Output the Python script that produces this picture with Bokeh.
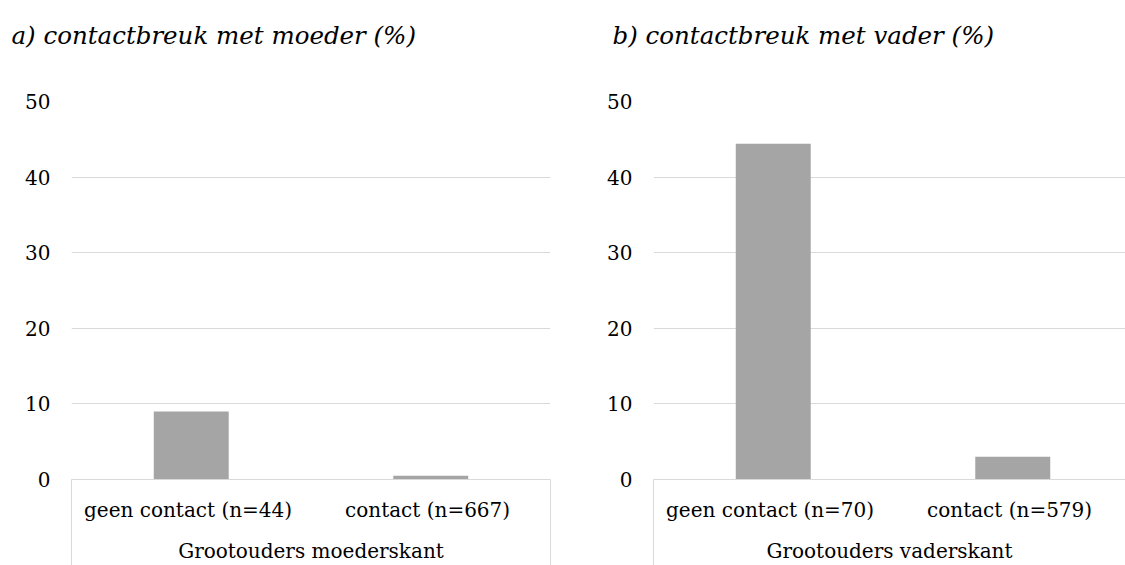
from bokeh.plotting import figure
from bokeh.models import Range1d, FixedTicker, LinearAxis, Title
from bokeh.layouts import row
from bokeh.embed import file_html
from bokeh.resources import INLINE

# ---- data ----
title_moeder = "a) contactbreuk met moeder (%)"
title_vader = "b) contactbreuk met vader (%)"
categories_moeder = ["geen contact  (n=44)", "contact  (n=667)"]
values_moeder = [9.0, 0.5]
group_moeder = "Grootouders moederskant"
categories_vader = ["geen contact  (n=70)", "contact  (n=579)"]
values_vader = [44.4, 3.0]
group_vader = "Grootouders vaderskant"
y_ticks = [0, 10, 20, 30, 40, 50]

FONT = "DejaVu Serif"
GRID = "#d9d9d9"
BAR = "#a5a5a5"
CAT_PX = 239.5      # pixels per category
TOP = 101           # space above plot area
BOTTOM = 86         # space below plot area (category box)
HEIGHT = 565


def make_panel(title, cats, vals, group, min_left, frame_w, min_right, title_offset):
    n = len(cats)
    xs = list(range(n))
    x_end = -0.5 + frame_w / CAT_PX
    p = figure(width=min_left + frame_w + min_right, height=HEIGHT,
               x_range=Range1d(-0.5, x_end), y_range=Range1d(0, 50),
               output_backend="svg", toolbar_location=None, title_location=None,
               min_border_left=min_left, min_border_right=min_right,
               min_border_top=TOP, min_border_bottom=BOTTOM,
               background_fill_color="white", border_fill_color="white")
    p.outline_line_color = None

    p.vbar(x=xs, top=vals, width=0.313, color=BAR, line_color=None)

    yt = FixedTicker(ticks=y_ticks)
    p.yaxis.ticker = yt
    p.ygrid.ticker = yt
    p.ygrid.grid_line_color = GRID
    p.xgrid.visible = False
    p.yaxis.axis_line_color = None
    p.yaxis.major_tick_line_color = None
    p.yaxis.minor_tick_line_color = None
    p.yaxis.major_tick_out = 0
    p.yaxis.minor_tick_out = 0
    p.yaxis.major_label_standoff = 21
    p.yaxis.major_label_text_font = FONT
    p.yaxis.major_label_text_font_size = "20px"
    p.yaxis.major_label_text_color = "black"

    xa = p.below[0]
    xa.ticker = FixedTicker(ticks=xs, minor_ticks=[-0.5, n - 0.5])
    xa.major_label_overrides = {i: c for i, c in enumerate(cats)}
    xa.axis_line_color = GRID
    xa.major_tick_line_color = None
    xa.major_tick_out = 0
    xa.major_tick_in = 0
    xa.minor_tick_line_color = GRID
    xa.minor_tick_in = 0
    xa.minor_tick_out = BOTTOM
    xa.major_label_standoff = -68
    xa.major_label_text_font = FONT
    xa.major_label_text_font_size = "20px"
    xa.major_label_text_color = "black"
    xa.axis_label = group
    xa.axis_label_standoff = 14
    xa.axis_label_text_font = FONT
    xa.axis_label_text_font_size = "20px"
    xa.axis_label_text_font_style = "normal"
    xa.axis_label_text_color = "black"

    # blank spacer axis next to the plot area, then the title (outermost)
    spacer = LinearAxis(ticker=FixedTicker(ticks=[0], minor_ticks=[]),
                        major_label_overrides={0: ""},
                        major_tick_out=35, major_tick_in=0,
                        minor_tick_out=0, minor_tick_in=0,
                        axis_line_color=None, major_tick_line_color="white",
                        minor_tick_line_color=None, major_label_standoff=0,
                        major_label_text_color=None, axis_label_standoff=0)
    p.add_layout(spacer, "above")

    t = Title(text=title, text_font=FONT, text_font_style="italic",
              text_font_size="24.5px", text_color="black", align="left",
              offset=title_offset, standoff=34)
    p.add_layout(t, "above")
    return p


p1 = make_panel(title_moeder, categories_moeder, values_moeder, group_moeder,
                71, 479, 40, -60)
p2 = make_panel(title_vader, categories_vader, values_vader, group_vader,
                63, 472, 0, -41)

layout = row(p1, p2)
open("out.html", "w").write(file_html(layout, INLINE))
